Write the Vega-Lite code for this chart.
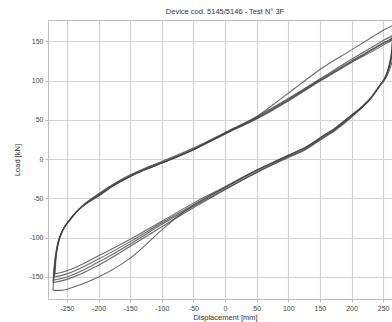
{
  "$schema": "https://vega.github.io/schema/vega-lite/v6.json",
  "autosize": {"type": "none"},
  "padding": {"left": 48, "top": 20, "right": 0, "bottom": 23},
  "width": 344,
  "height": 279,
  "background": "white",
  "title": {"text": "Device cod. 5145/5146 - Test N° 3F", "fontSize": 7.5, "fontWeight": "normal", "color": "#333", "font": "Liberation Sans", "anchor": "middle", "dx": 5, "offset": 5},
  "config": {
    "view": {"stroke": "#bbb", "strokeWidth": 1},
    "axis": {"labelFont": "Liberation Sans", "titleFont": "Liberation Sans", "labelFontSize": 7, "titleFontSize": 7.5, "titleFontWeight": "normal", "labelColor": "#444", "titleColor": "#333", "gridColor": "#d2d2d2", "gridWidth": 1.2, "tickColor": "#bbb", "tickSize": 3, "domain": false}
  },
  "data": {"values": [
    {"c":"A","i":0,"d":-270,"f":-150},{"c":"A","i":1,"d":-268,"f":-128},{"c":"A","i":2,"d":-264,"f":-108},{"c":"A","i":3,"d":-256,"f":-90},{"c":"A","i":4,"d":-245,"f":-77},{"c":"A","i":5,"d":-230,"f":-63},{"c":"A","i":6,"d":-215,"f":-53},{"c":"A","i":7,"d":-200,"f":-45},{"c":"A","i":8,"d":-175,"f":-32},{"c":"A","i":9,"d":-150,"f":-21},{"c":"A","i":10,"d":-125,"f":-12},{"c":"A","i":11,"d":-100,"f":-4},{"c":"A","i":12,"d":-50,"f":13},{"c":"A","i":13,"d":0,"f":33},{"c":"A","i":14,"d":50,"f":53},{"c":"A","i":15,"d":100,"f":76},{"c":"A","i":16,"d":150,"f":101},{"c":"A","i":17,"d":200,"f":125},{"c":"A","i":18,"d":250,"f":148},{"c":"A","i":19,"d":266,"f":156},{"c":"A","i":20,"d":264,"f":138},{"c":"A","i":21,"d":260,"f":120},{"c":"A","i":22,"d":254,"f":105},{"c":"A","i":23,"d":245,"f":94},{"c":"A","i":24,"d":230,"f":77},{"c":"A","i":25,"d":215,"f":65},{"c":"A","i":26,"d":200,"f":55},{"c":"A","i":27,"d":175,"f":39},{"c":"A","i":28,"d":150,"f":26},{"c":"A","i":29,"d":125,"f":13},{"c":"A","i":30,"d":100,"f":4},{"c":"A","i":31,"d":50,"f":-15},{"c":"A","i":32,"d":0,"f":-36},{"c":"A","i":33,"d":-50,"f":-58},{"c":"A","i":34,"d":-100,"f":-81},{"c":"A","i":35,"d":-150,"f":-105},{"c":"A","i":36,"d":-200,"f":-127},{"c":"A","i":37,"d":-250,"f":-146},{"c":"A","i":38,"d":-270,"f":-150},
    {"c":"B","i":0,"d":-271,"f":-154},{"c":"B","i":1,"d":-269,"f":-132},{"c":"B","i":2,"d":-265,"f":-110},{"c":"B","i":3,"d":-257,"f":-91},{"c":"B","i":4,"d":-246,"f":-78},{"c":"B","i":5,"d":-231,"f":-64},{"c":"B","i":6,"d":-215,"f":-54},{"c":"B","i":7,"d":-200,"f":-46},{"c":"B","i":8,"d":-175,"f":-33},{"c":"B","i":9,"d":-150,"f":-22},{"c":"B","i":10,"d":-125,"f":-13},{"c":"B","i":11,"d":-100,"f":-5},{"c":"B","i":12,"d":-50,"f":12},{"c":"B","i":13,"d":0,"f":32},{"c":"B","i":14,"d":50,"f":51},{"c":"B","i":15,"d":100,"f":74},{"c":"B","i":16,"d":150,"f":99},{"c":"B","i":17,"d":200,"f":123},{"c":"B","i":18,"d":250,"f":145},{"c":"B","i":19,"d":265,"f":153},{"c":"B","i":20,"d":263,"f":136},{"c":"B","i":21,"d":259,"f":118},{"c":"B","i":22,"d":252,"f":102},{"c":"B","i":23,"d":243,"f":91},{"c":"B","i":24,"d":228,"f":75},{"c":"B","i":25,"d":213,"f":63},{"c":"B","i":26,"d":200,"f":53},{"c":"B","i":27,"d":175,"f":37},{"c":"B","i":28,"d":150,"f":24},{"c":"B","i":29,"d":125,"f":11},{"c":"B","i":30,"d":100,"f":2},{"c":"B","i":31,"d":50,"f":-17},{"c":"B","i":32,"d":0,"f":-38},{"c":"B","i":33,"d":-50,"f":-60},{"c":"B","i":34,"d":-100,"f":-83},{"c":"B","i":35,"d":-150,"f":-108},{"c":"B","i":36,"d":-200,"f":-131},{"c":"B","i":37,"d":-250,"f":-150},{"c":"B","i":38,"d":-271,"f":-154},
    {"c":"C","i":0,"d":-269,"f":-146},{"c":"C","i":1,"d":-267,"f":-124},{"c":"C","i":2,"d":-263,"f":-105},{"c":"C","i":3,"d":-255,"f":-88},{"c":"C","i":4,"d":-244,"f":-75},{"c":"C","i":5,"d":-229,"f":-62},{"c":"C","i":6,"d":-214,"f":-52},{"c":"C","i":7,"d":-200,"f":-44},{"c":"C","i":8,"d":-175,"f":-31},{"c":"C","i":9,"d":-150,"f":-20},{"c":"C","i":10,"d":-125,"f":-11},{"c":"C","i":11,"d":-100,"f":-3},{"c":"C","i":12,"d":-50,"f":14},{"c":"C","i":13,"d":0,"f":34},{"c":"C","i":14,"d":50,"f":54},{"c":"C","i":15,"d":100,"f":77},{"c":"C","i":16,"d":150,"f":102},{"c":"C","i":17,"d":200,"f":127},{"c":"C","i":18,"d":250,"f":151},{"c":"C","i":19,"d":268,"f":160},{"c":"C","i":20,"d":266,"f":142},{"c":"C","i":21,"d":262,"f":124},{"c":"C","i":22,"d":256,"f":108},{"c":"C","i":23,"d":247,"f":96},{"c":"C","i":24,"d":232,"f":79},{"c":"C","i":25,"d":217,"f":66},{"c":"C","i":26,"d":200,"f":56},{"c":"C","i":27,"d":175,"f":40},{"c":"C","i":28,"d":150,"f":27},{"c":"C","i":29,"d":125,"f":14},{"c":"C","i":30,"d":100,"f":5},{"c":"C","i":31,"d":50,"f":-14},{"c":"C","i":32,"d":0,"f":-35},{"c":"C","i":33,"d":-50,"f":-56},{"c":"C","i":34,"d":-100,"f":-79},{"c":"C","i":35,"d":-150,"f":-102},{"c":"C","i":36,"d":-200,"f":-123},{"c":"C","i":37,"d":-250,"f":-142},{"c":"C","i":38,"d":-269,"f":-146},
    {"c":"D","i":0,"d":-272,"f":-157},{"c":"D","i":1,"d":-270,"f":-135},{"c":"D","i":2,"d":-266,"f":-112},{"c":"D","i":3,"d":-258,"f":-92},{"c":"D","i":4,"d":-247,"f":-79},{"c":"D","i":5,"d":-232,"f":-65},{"c":"D","i":6,"d":-216,"f":-55},{"c":"D","i":7,"d":-200,"f":-47},{"c":"D","i":8,"d":-175,"f":-33},{"c":"D","i":9,"d":-150,"f":-22},{"c":"D","i":10,"d":-125,"f":-13},{"c":"D","i":11,"d":-100,"f":-5},{"c":"D","i":12,"d":-50,"f":12},{"c":"D","i":13,"d":0,"f":32},{"c":"D","i":14,"d":50,"f":52},{"c":"D","i":15,"d":100,"f":75},{"c":"D","i":16,"d":150,"f":100},{"c":"D","i":17,"d":200,"f":124},{"c":"D","i":18,"d":250,"f":147},{"c":"D","i":19,"d":266,"f":155},{"c":"D","i":20,"d":264,"f":137},{"c":"D","i":21,"d":260,"f":119},{"c":"D","i":22,"d":253,"f":104},{"c":"D","i":23,"d":244,"f":93},{"c":"D","i":24,"d":229,"f":76},{"c":"D","i":25,"d":214,"f":64},{"c":"D","i":26,"d":200,"f":54},{"c":"D","i":27,"d":175,"f":38},{"c":"D","i":28,"d":150,"f":25},{"c":"D","i":29,"d":125,"f":12},{"c":"D","i":30,"d":100,"f":3},{"c":"D","i":31,"d":50,"f":-17},{"c":"D","i":32,"d":0,"f":-39},{"c":"D","i":33,"d":-50,"f":-62},{"c":"D","i":34,"d":-100,"f":-86},{"c":"D","i":35,"d":-150,"f":-111},{"c":"D","i":36,"d":-200,"f":-135},{"c":"D","i":37,"d":-250,"f":-153},{"c":"D","i":38,"d":-272,"f":-157},
    {"c":"E","i":0,"d":-272,"f":-167},{"c":"E","i":1,"d":-271,"f":-150},{"c":"E","i":2,"d":-269,"f":-130},{"c":"E","i":3,"d":-265,"f":-110},{"c":"E","i":4,"d":-257,"f":-91},{"c":"E","i":5,"d":-246,"f":-78},{"c":"E","i":6,"d":-231,"f":-64},{"c":"E","i":7,"d":-215,"f":-54},{"c":"E","i":8,"d":-200,"f":-46},{"c":"E","i":9,"d":-175,"f":-33},{"c":"E","i":10,"d":-150,"f":-22},{"c":"E","i":11,"d":-125,"f":-13},{"c":"E","i":12,"d":-100,"f":-5},{"c":"E","i":13,"d":-50,"f":12},{"c":"E","i":14,"d":0,"f":33},{"c":"E","i":15,"d":50,"f":54},{"c":"E","i":16,"d":87,"f":76},{"c":"E","i":17,"d":120,"f":96},{"c":"E","i":18,"d":150,"f":114},{"c":"E","i":19,"d":200,"f":139},{"c":"E","i":20,"d":250,"f":164},{"c":"E","i":21,"d":272,"f":175},{"c":"E","i":22,"d":270,"f":155},{"c":"E","i":23,"d":267,"f":135},{"c":"E","i":24,"d":262,"f":118},{"c":"E","i":25,"d":255,"f":104},{"c":"E","i":26,"d":246,"f":95},{"c":"E","i":27,"d":230,"f":78},{"c":"E","i":28,"d":215,"f":66},{"c":"E","i":29,"d":200,"f":56},{"c":"E","i":30,"d":175,"f":40},{"c":"E","i":31,"d":150,"f":27},{"c":"E","i":32,"d":125,"f":14},{"c":"E","i":33,"d":100,"f":5},{"c":"E","i":34,"d":50,"f":-14},{"c":"E","i":35,"d":0,"f":-36},{"c":"E","i":36,"d":-50,"f":-59},{"c":"E","i":37,"d":-75,"f":-73},{"c":"E","i":38,"d":-100,"f":-90},{"c":"E","i":39,"d":-150,"f":-126},{"c":"E","i":40,"d":-200,"f":-150},{"c":"E","i":41,"d":-237,"f":-162},{"c":"E","i":42,"d":-260,"f":-167},{"c":"E","i":43,"d":-272,"f":-167}
  ]},
  "mark": {"type": "line", "clip": true, "color": "#444", "strokeWidth": 1.1, "opacity": 0.8, "interpolate": "monotone"},
  "encoding": {
    "x": {"field": "d", "type": "quantitative", "scale": {"domain": [-280, 264], "nice": false, "zero": false},
      "axis": {"values": [-250,-200,-150,-100,-50,0,50,100,150,200,250], "title": "Displacement [mm]", "titleX": 177, "titlePadding": 2, "labelPadding": 2, "labelExpr": "'' + datum.value"}},
    "y": {"field": "f", "type": "quantitative", "scale": {"domain": [-178, 177], "nice": false, "zero": false},
      "axis": {"values": [-150,-100,-50,0,50,100,150], "title": "Load [kN]", "titlePadding": 7, "labelPadding": 2, "labelExpr": "'' + datum.value"}},
    "detail": {"field": "c"},
    "order": {"field": "i", "type": "quantitative"}
  }
}
